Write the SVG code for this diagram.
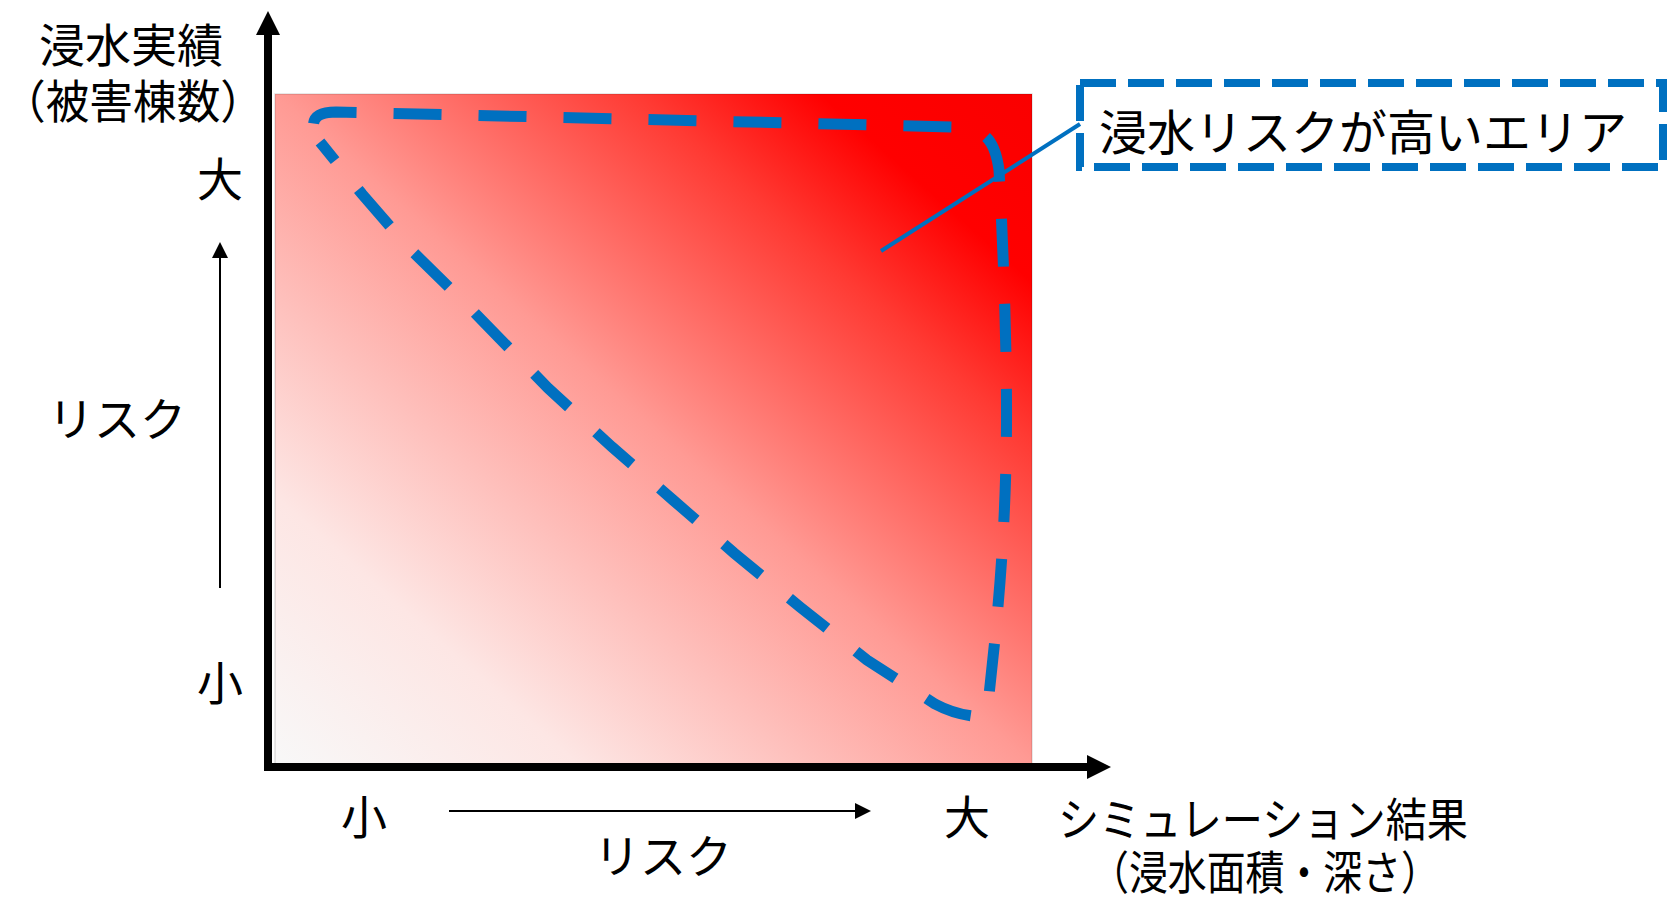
<svg xmlns="http://www.w3.org/2000/svg" width="1669" height="900" viewBox="0 0 1669 900">
  <defs>
    <linearGradient id="riskGrad" x1="0" y1="1" x2="1" y2="0">
      <stop offset="0" stop-color="#F8F8F8"/>
      <stop offset="0.2" stop-color="#FDE6E4"/>
      <stop offset="0.5" stop-color="#FF9A94"/>
      <stop offset="0.74" stop-color="#FF3A33"/>
      <stop offset="0.86" stop-color="#FF0000"/>
      <stop offset="1" stop-color="#FA0000"/>
    </linearGradient>
    <marker id="thinHead" viewBox="0 0 16 16" refX="0" refY="8" markerWidth="16" markerHeight="16" markerUnits="userSpaceOnUse" orient="auto">
      <path d="M0,0 L16,8 L0,16 Z" fill="#000"/>
    </marker>
  </defs>
  <style>
    text { font-family: "Noto Sans CJK JP", "Noto Sans", sans-serif; fill: #000; }
    .lbl { font-size: 46px; text-anchor: middle; }
    .axis { stroke: #000; stroke-width: 8; fill: none; }
    .thin { stroke: #000; stroke-width: 2; fill: none; }
    .blue { stroke: #0070C0; fill: none; }
  </style>

  <g id="chart-area">
    <rect x="275" y="94" width="757" height="670" fill="url(#riskGrad)" stroke="#000" stroke-opacity="0.12" stroke-width="1.5"/>
  </g>

  <g id="high-risk-region">
    <path class="blue" stroke-width="11" stroke-dasharray="48 37" stroke-dashoffset="-20"
      d="M 320,142 C 308,124 312,112 336,112 L 955,127 C 985,128 995,140 999,170 C 1004,260 1008,380 1006,460 C 1004,560 995,640 989,695 C 987,712 984,718 972,716 C 958,714 948,711 935,704 L 867,660 L 800,607 L 734,553 L 673,500 L 612,447 L 548,388 L 469,307 L 408,247 L 362,194 Z"/>
  </g>

  <g id="connectors">
    <g id="y-axis">
      <line class="axis" x1="268" y1="771" x2="268" y2="32"/>
      <polygon points="268,11 256,35 280,35" fill="#000"/>
    </g>
    <g id="x-axis">
      <line class="axis" x1="264" y1="767" x2="1090" y2="767"/>
      <polygon points="1111,767 1087,755 1087,779" fill="#000"/>
    </g>
    <line id="y-risk-arrow" class="thin" x1="220" y1="588" x2="220" y2="258" marker-end="url(#thinHead)"/>
    <line id="x-risk-arrow" class="thin" x1="449" y1="811" x2="855" y2="811" marker-end="url(#thinHead)"/>
    <line id="leader" class="blue" stroke-width="4" x1="881" y1="251" x2="1080" y2="124"/>
  </g>

  <g id="y-axis-title">
    <text class="lbl" x="131" y="62">浸水実績</text>
    <text x="2" y="118" font-size="46" textLength="262" lengthAdjust="spacingAndGlyphs">（被害棟数）</text>
  </g>
  <g id="y-label-large"><text class="lbl" x="220" y="196">大</text></g>
  <g id="y-label-risk"><text class="lbl" x="117" y="436">リスク</text></g>
  <g id="y-label-small"><text class="lbl" x="220" y="700">小</text></g>

  <g id="x-label-small"><text class="lbl" x="364" y="834">小</text></g>
  <g id="x-label-risk"><text class="lbl" x="663" y="873">リスク</text></g>
  <g id="x-label-large"><text class="lbl" x="967" y="834">大</text></g>
  <g id="x-axis-title">
    <text class="lbl" x="1263" y="836" textLength="410" lengthAdjust="spacingAndGlyphs">シミュレーション結果</text>
    <text class="lbl" x="1265" y="889" textLength="350" lengthAdjust="spacingAndGlyphs">（浸水面積・深さ）</text>
  </g>

  <g id="callout">
    <rect class="blue" x="1080" y="83" width="583" height="84" stroke-width="8" stroke-dasharray="36 12"/>
    <text class="lbl" x="1363" y="150" style="font-size:48px">浸水リスクが高いエリア</text>
  </g>
</svg>
